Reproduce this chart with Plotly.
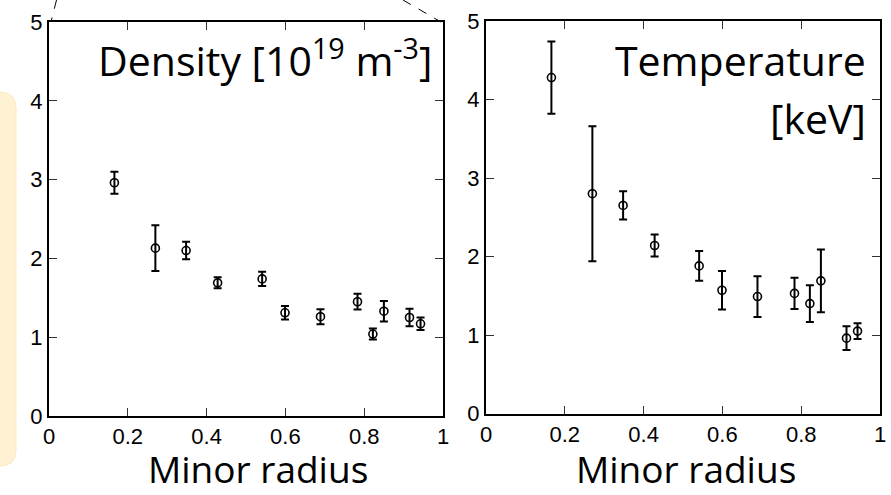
import plotly.graph_objects as go

W, H = 891, 495

# ---- data ----
radius = [0.166, 0.270, 0.348, 0.428, 0.541, 0.599, 0.689, 0.783, 0.822, 0.850, 0.915, 0.943]
density = [2.96, 2.13, 2.10, 1.69, 1.74, 1.31, 1.26, 1.45, 1.04, 1.33, 1.25, 1.17]
density_err = [0.14, 0.29, 0.11, 0.07, 0.09, 0.085, 0.095, 0.10, 0.07, 0.13, 0.11, 0.08]
temperature = [4.28, 2.80, 2.65, 2.14, 1.88, 1.57, 1.49, 1.53, 1.40, 1.69, 0.96, 1.05]
temperature_err = [0.46, 0.86, 0.18, 0.14, 0.19, 0.245, 0.26, 0.20, 0.235, 0.40, 0.15, 0.10]
x_ticks = [0, 0.2, 0.4, 0.6, 0.8, 1]
x_ticktext = ["0", "0.2", "0.4", "0.6", "0.8", "1"]
y_ticks = [0, 1, 2, 3, 4, 5]

# plot area in pixels (margins)
ML, MR, MT, MB = 49, 11, 21, 79
PW, PH = W - ML - MR, H - MT - MB


def px(x):
    return (x - ML) / PW


def py(y):
    return (H - MB - y) / PH


fig = go.Figure()
marker = dict(symbol="circle-open", size=8, color="black", line=dict(width=1.6, color="black"))
fig.add_trace(go.Scatter(x=radius, y=density, mode="markers", marker=marker,
                         error_y=dict(type="data", array=density_err, color="black", thickness=2, width=4),
                         xaxis="x", yaxis="y", showlegend=False))
fig.add_trace(go.Scatter(x=radius, y=temperature, mode="markers", marker=marker,
                         error_y=dict(type="data", array=temperature_err, color="black", thickness=2, width=4),
                         xaxis="x2", yaxis="y2", showlegend=False))

tickfont = dict(family="Liberation Sans, Arial", size=22, color="black")
common_x = dict(range=[0, 1], tickvals=x_ticks, ticktext=x_ticktext, ticks="inside", ticklen=8,
                tickcolor="#333", tickwidth=1, showline=True, linecolor="black", linewidth=2,
                mirror="ticks", showgrid=False, zeroline=False, tickfont=tickfont, fixedrange=True,
                automargin=False)
common_y = dict(range=[0, 5], tickvals=y_ticks, ticks="inside", ticklen=8,
                tickcolor="#333", tickwidth=1, showline=True, linecolor="black", linewidth=2,
                mirror="ticks", showgrid=False, zeroline=False, tickfont=tickfont, fixedrange=True,
                automargin=False)

fig.update_layout(
    width=W, height=H, autosize=False,
    margin=dict(l=ML, r=MR, t=MT, b=MB, pad=0),
    paper_bgcolor="white", plot_bgcolor="white",
    xaxis=dict(domain=[px(49), px(443)], anchor="y", **common_x),
    yaxis=dict(domain=[max(0, py(416)), min(1, py(22))], anchor="x", **common_y),
    xaxis2=dict(domain=[px(486), px(880)], anchor="y2", **common_x),
    yaxis2=dict(domain=[max(0, py(413.5)), min(1, py(21))], anchor="x2", **common_y),
)

title_font = dict(family="Open Sans, Noto Sans", size=37, color="black")
big_font = dict(family="Open Sans, Noto Sans", size=41, color="black")
annotations = [
    dict(text="Minor radius", x=px(258), y=py(495), xref="paper", yref="paper",
         xanchor="center", yanchor="bottom", borderpad=0,
         showarrow=False, font=title_font),
    dict(text="Minor radius", x=px(686), y=py(495), xref="paper", yref="paper",
         xanchor="center", yanchor="bottom", borderpad=0,
         showarrow=False, font=title_font),
    dict(text="Density [10<sup>19</sup> m<sup>-3</sup>]", x=px(434), y=py(58), xref="paper", yref="paper",
         xanchor="right", yanchor="middle", showarrow=False, font=big_font),
    dict(text="Temperature", x=px(868), y=py(60), xref="paper", yref="paper",
         xanchor="right", yanchor="middle", showarrow=False, font=big_font),
    dict(text="[keV]", x=px(868), y=py(118), xref="paper", yref="paper",
         xanchor="right", yanchor="middle", showarrow=False, font=big_font),
]
fig.update_layout(annotations=annotations)

# background highlight strip (left) and zoom guide lines
r = 16
x0, x1, y0, y1 = -30, 16, 92, 466
path = (f"M {px(x0)},{py(y0)} L {px(x1 - r)},{py(y0)} Q {px(x1)},{py(y0)} {px(x1)},{py(y0 + r)} "
        f"L {px(x1)},{py(y1 - r)} Q {px(x1)},{py(y1)} {px(x1 - r)},{py(y1)} L {px(x0)},{py(y1)} Z")
shapes = [
    dict(type="path", path=path, xref="paper", yref="paper", fillcolor="#FFF2D2",
         line=dict(color="#FCE9C0", width=1), layer="below"),
    dict(type="line", x0=px(56.5), y0=py(0), x1=px(51), y1=py(22), xref="paper", yref="paper",
         line=dict(color="black", width=1, dash="dash")),
    dict(type="line", x0=px(403), y0=py(0), x1=px(441), y1=py(22), xref="paper", yref="paper",
         line=dict(color="black", width=1, dash="dash")),
]
fig.update_layout(shapes=shapes)

fig.write_html("out.html")
